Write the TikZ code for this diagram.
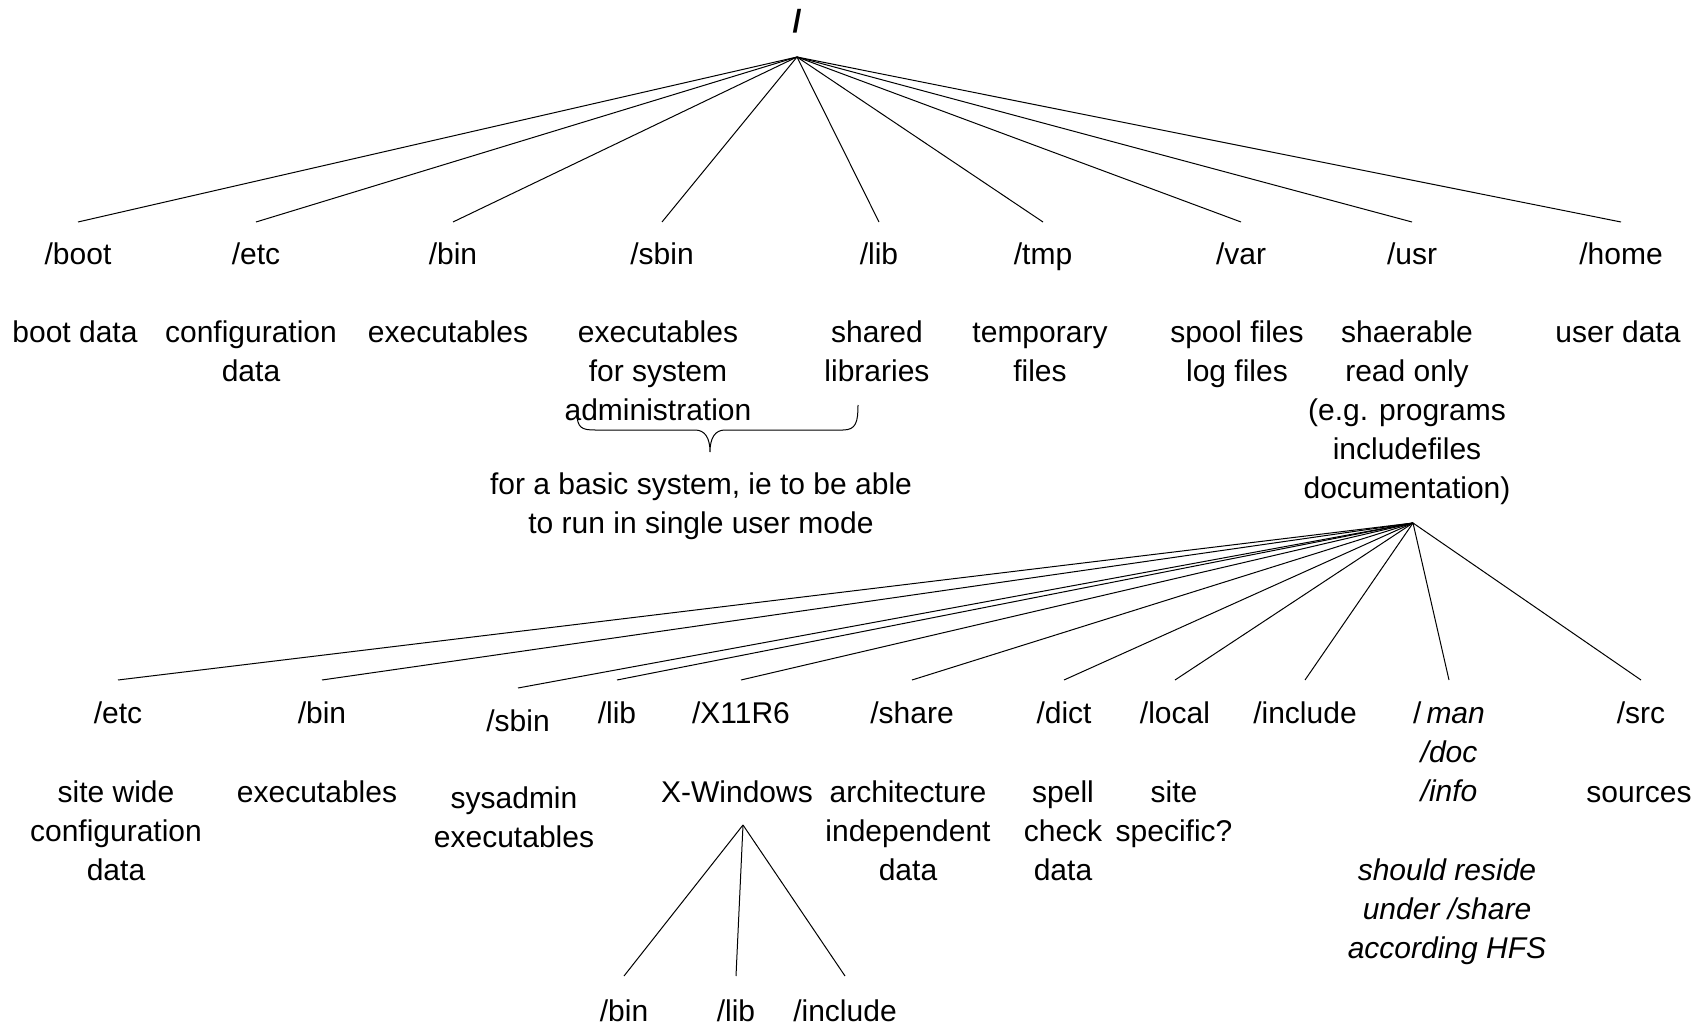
\documentclass[tikz,border=0pt]{standalone}
\usepackage{fontspec}
\setmainfont{Liberation Sans}
\newcommand{\mlines}[1]{\begin{tabular}[t]{@{}c@{}}#1\end{tabular}}
\begin{document}
\begin{tikzpicture}[x=1pt,y=-1pt,
  lbl/.style={inner sep=0pt, outer sep=0pt, anchor=base, font=\fontsize{30}{39}\selectfont},
  dirlbl/.style={lbl, text height=22pt},
  edge/.style={line width=1pt, draw=black}]
\useasboundingbox (0,0) rectangle (1701,1024);

% root
\node[lbl] (root) at (797,33) {\fontsize{32}{39}\selectfont\bfseries /};
\coordinate (roothub) at (797,57);

% first level
\node[dirlbl] (boot) at (78,265) {/boot};
\node[dirlbl] (etc)  at (256,265) {/etc};
\node[dirlbl] (bin)  at (453,265) {/bin};
\node[dirlbl] (sbin) at (662,265) {/sbin};
\node[dirlbl] (lib)  at (879,265) {/lib};
\node[dirlbl] (tmp)  at (1043,265) {/tmp};
\node[dirlbl] (var)  at (1241,265) {/var};
\node[dirlbl] (usr)  at (1412,265) {/usr};
\node[dirlbl] (home) at (1621,265) {/home};

\foreach \n in {boot,etc,bin,sbin,lib,tmp,var,usr,home}
  \draw[edge] (roothub) -- ([yshift=21pt]\n.north);

% first level descriptions
\node[lbl] (bootd) at (75,343) {boot data};
\node[lbl] (etcd)  at (251,343) {\mlines{configuration\\data}};
\node[lbl] (bind)  at (448,343) {executables};
\node[lbl] (sbind) at (658,343) {\mlines{executables\\for system\\administration}};
\node[lbl] (libd)  at (877,343) {\mlines{shared\\libraries}};
\node[lbl] (tmpd)  at (1040,343) {\mlines{temporary\\files}};
\node[lbl] (vard)  at (1237,343) {\mlines{spool files\\log files}};
\node[lbl] (usrd)  at (1407,343) {\mlines{shaerable\\read only\\(e.g. programs\\includefiles\\documentation)}};
\node[lbl] (homed) at (1618,343) {user data};

% brace
\draw[line width=1pt] (577,413) .. controls (577,428) and (582,430) .. (595,430)
  -- (695,430) .. controls (705,430) and (710,438) .. (710,452)
  .. controls (710,438) and (715,430) .. (725,430)
  -- (843,430) .. controls (856,430) and (858,422) .. (858,405);
\node[lbl] (basic) at (701,494) {\mlines{for a basic system, ie to be able\\to run in single user mode}};

% second level (under /usr)
\coordinate (usrhub) at (1413,523);
\node[dirlbl] (uetc)     at (118,723) {/etc};
\node[dirlbl] (ubin)     at (322,723) {/bin};
\node[dirlbl] (usbin)    at (518,731) {/sbin};
\node[dirlbl] (ulib)     at (617,723) {/lib};
\node[dirlbl] (ux)       at (741,723) {/X11R6};
\node[dirlbl] (ushare)   at (912,723) {/share};
\node[dirlbl] (udict)    at (1064,723) {/dict};
\node[dirlbl] (ulocal)   at (1175,723) {/local};
\node[dirlbl] (uinclude) at (1305,723) {/include};
\node[dirlbl] (uman)     at (1449,723) {\mlines{/\,\textit{man}\\\textit{/doc}\\\textit{/info}}};
\node[dirlbl] (usrc)     at (1641,723) {/src};

\foreach \n in {uetc,ubin,usbin,ulib,ux,ushare,udict,ulocal,uinclude,uman,usrc}
  \draw[edge] (usrhub) -- ([yshift=21pt]\n.north);

% second level descriptions
\node[lbl] (uetcd)   at (116,802) {\mlines{site wide\\configuration\\data}};
\node[lbl] (ubind)   at (317,802) {executables};
\node[lbl] (usbind)  at (514,808) {\mlines{sysadmin\\executables}};
\node[lbl] (uxd)     at (737,802) {X-Windows};
\node[lbl] (ushared) at (908,802) {\mlines{architecture\\independent\\data}};
\node[lbl] (udictd)  at (1063,802) {\mlines{spell\\check\\data}};
\node[lbl] (ulocald) at (1174,802) {\mlines{site\\specific?}};
\node[lbl] (usrcd)   at (1639,802) {sources};
\node[lbl] (hfs)     at (1447,880) {\itshape\mlines{should reside\\under /share\\according HFS}};

% X11R6 subtree
\coordinate (xhub) at (743,825);
\node[dirlbl] (xbin) at (624,1021) {/bin};
\node[dirlbl] (xlib) at (736,1021) {/lib};
\node[dirlbl] (xinc) at (845,1021) {/include};
\foreach \n in {xbin,xlib,xinc}
  \draw[edge] (xhub) -- ([yshift=23pt]\n.north);
\end{tikzpicture}
\end{document}
